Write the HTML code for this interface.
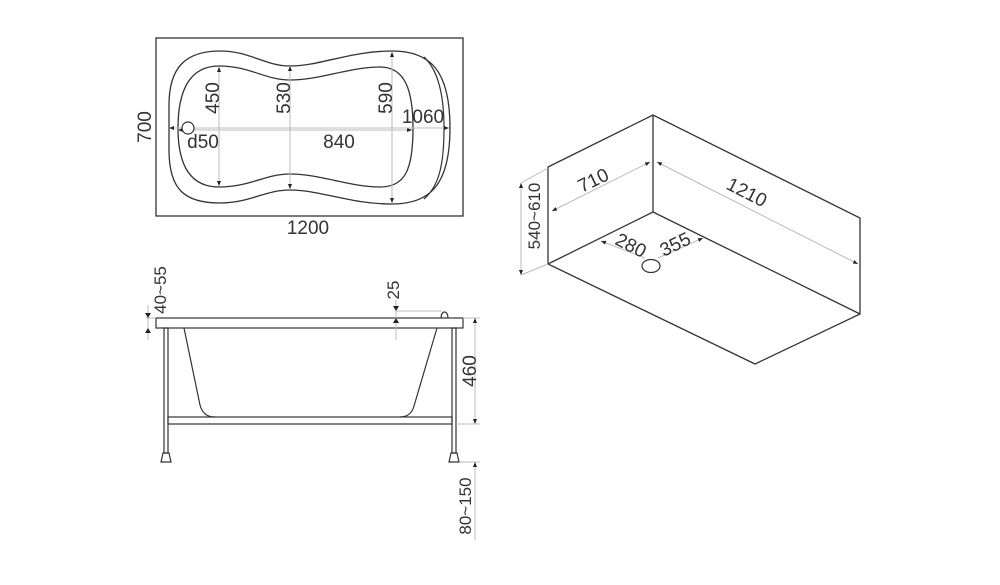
<!DOCTYPE html>
<html><head><style>
html,body{margin:0;padding:0;background:#fff;}
svg{display:block;}
text{font-family:"Liberation Sans",sans-serif;fill:#333;}
</style></head><body>
<svg width="1000" height="585" viewBox="0 0 1000 585" xmlns="http://www.w3.org/2000/svg">
<defs>
<marker id="a" viewBox="0 0 10 10" refX="10" refY="5" markerWidth="5" markerHeight="5" orient="auto-start-reverse"><path d="M0,1 L10,5 L0,9z" fill="#222"/></marker>
</defs>
<!-- Top view -->
<rect x="156" y="38" width="307" height="178" fill="none" stroke="#333" stroke-width="1.3"/>
<path d="M220,51 C250,51 265,66 290,66 C320,66 350,51 392,51 C430,51 450,70 450,128 C450,185 430,204 392,204 C350,204 320,190 290,190 C265,190 250,203 220,203 C185,203 169,190 169,150 L169,105 C169,68 185,51 220,51Z" fill="none" stroke="#333" stroke-width="1.3"/>
<path d="M424,57 C438,70 444,95 444,128 C444,165 439,186 424,199" fill="none" stroke="#333" stroke-width="1.2"/>
<path d="M219,66 C250,66 265,80 290,80 C320,80 350,67 380,67 C405,67 413,90 413,128 C413,170 405,187 380,187 C350,187 320,174 290,174 C265,174 250,187 219,187 C190,187 178,165 178,128 C178,90 190,66 219,66Z" fill="none" stroke="#333" stroke-width="1.3"/>
<g stroke="#bbb" stroke-width="1" fill="none">
<line x1="219" y1="67" x2="219" y2="186" marker-start="url(#a)" marker-end="url(#a)"/>
<line x1="290" y1="66" x2="290" y2="189" marker-start="url(#a)" marker-end="url(#a)"/>
<line x1="392" y1="52" x2="392" y2="203" marker-start="url(#a)" marker-end="url(#a)"/>
<line x1="178" y1="130" x2="412" y2="130" marker-start="url(#a)" marker-end="url(#a)"/>
<line x1="169" y1="128" x2="449" y2="128" marker-start="url(#a)" marker-end="url(#a)"/>
</g>
<circle cx="188" cy="128" r="6" fill="#fff" stroke="#333" stroke-width="1.2"/>
<text x="212" y="105" font-size="19" text-anchor="middle" transform="rotate(-90 212 98)">450</text>
<text x="283" y="105" font-size="19" text-anchor="middle" transform="rotate(-90 283 98)">530</text>
<text x="385" y="105" font-size="19" text-anchor="middle" transform="rotate(-90 385 98)">590</text>
<text x="423" y="123" font-size="19" text-anchor="middle">1060</text>
<text x="203" y="148" font-size="19" text-anchor="middle">d50</text>
<text x="339" y="148" font-size="19" text-anchor="middle">840</text>
<text x="308" y="234" font-size="19" text-anchor="middle">1200</text>
<text x="144" y="134" font-size="19" text-anchor="middle" transform="rotate(-90 144 127)">700</text>
<!-- Side view -->
<g stroke="#333" stroke-width="1.2" fill="none">
<rect x="156" y="318" width="307" height="10"/>
<path d="M441,318 C441,310 448,310 448,318"/>
<path d="M184,328 L200,405 Q203,417 215,417"/>
<path d="M437,328 L414,406 Q411,417 400,417"/>
<rect x="168" y="417" width="284" height="7"/>
<rect x="164" y="328" width="4" height="125"/>
<rect x="452" y="328" width="4" height="125"/>
<path d="M163,453 L169,453 L171,462 L161,462Z"/>
<path d="M451,453 L457,453 L459,462 L449,462Z"/>
</g>
<g stroke="#bbb" stroke-width="1" fill="none">
<line x1="396" y1="311" x2="442" y2="311"/>
<line x1="396" y1="300" x2="396" y2="340"/>
<line x1="146" y1="318" x2="156" y2="318"/>
<line x1="148" y1="305" x2="148" y2="340"/>
<line x1="463" y1="318" x2="480" y2="318"/>
<line x1="456" y1="424" x2="480" y2="424"/>
<line x1="460" y1="462" x2="480" y2="462"/>
<line x1="475" y1="318" x2="475" y2="424" marker-start="url(#a)" marker-end="url(#a)"/>
<line x1="475" y1="462" x2="475" y2="540" marker-start="url(#a)"/>
</g>
<path d="M145,313 L151,313 L148,318Z M145,333 L151,333 L148,328Z M393,306 L399,306 L396,311Z M393,323 L399,323 L396,318Z" fill="#222"/>
<text x="160" y="296" font-size="17" text-anchor="middle" transform="rotate(-90 160 290)">40~55</text>
<text x="393" y="296" font-size="17" text-anchor="middle" transform="rotate(-90 393 290)">25</text>
<text x="469" y="378" font-size="19" text-anchor="middle" transform="rotate(-90 469 371)">460</text>
<text x="465" y="512" font-size="17" text-anchor="middle" transform="rotate(-90 465 506)">80~150</text>
<!-- Iso -->
<g stroke="#333" stroke-width="1.3" fill="none">
<path d="M548,167 L653,115 L860,218 L860,314 L755,364 L548,264 Z"/>
<path d="M653,115 L653,212 M548,264 L653,212 L860,314"/>
</g>
<ellipse cx="651" cy="266" rx="9" ry="6.5" fill="none" stroke="#333" stroke-width="1.2"/>
<g stroke="#bbb" stroke-width="1" fill="none">
<line x1="552" y1="211" x2="650" y2="162" marker-start="url(#a)" marker-end="url(#a)"/>
<line x1="657" y1="162" x2="858" y2="264" marker-start="url(#a)" marker-end="url(#a)"/>
<line x1="521" y1="183" x2="521" y2="275" marker-start="url(#a)" marker-end="url(#a)"/>
<line x1="521" y1="183" x2="548" y2="168"/>
<line x1="521" y1="275" x2="548" y2="264"/>
<line x1="601" y1="241" x2="645" y2="258" marker-start="url(#a)"/>
<line x1="658" y1="258" x2="703" y2="238" marker-end="url(#a)"/>
</g>
<text x="596" y="186" font-size="19" text-anchor="middle" transform="rotate(-26 596 186)">710</text>
<text x="744" y="198" font-size="19" text-anchor="middle" transform="rotate(27 744 198)">1210</text>
<text x="534" y="222" font-size="17" text-anchor="middle" transform="rotate(-90 534 216)">540~610</text>
<text x="628" y="251" font-size="19" text-anchor="middle" transform="rotate(27 628 251)">280</text>
<text x="678" y="250" font-size="19" text-anchor="middle" transform="rotate(-26 678 250)">355</text>
</svg>
</body></html>
